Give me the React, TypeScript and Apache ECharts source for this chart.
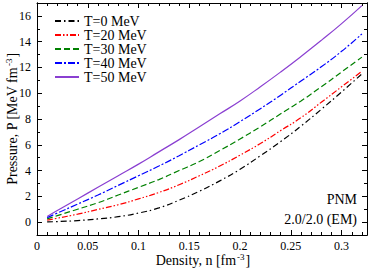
import React, { useEffect, useRef } from "react";
import * as echarts from "echarts";

const density = [0.01, 0.02, 0.04, 0.06, 0.08, 0.1, 0.12, 0.14, 0.16, 0.18, 0.2, 0.22, 0.24, 0.26, 0.28, 0.3, 0.32];
const pT0 = [0.02, 0.04, 0.12, 0.25, 0.42, 0.7, 1.1, 1.7, 2.4, 3.2, 4.1, 5.15, 6.25, 7.45, 8.75, 10.1, 11.5];
const pT20 = [0.15, 0.3, 0.62, 0.98, 1.35, 1.8, 2.3, 2.9, 3.6, 4.35, 5.2, 6.1, 7.1, 8.1, 9.3, 10.5, 11.7];
const pT30 = [0.25, 0.5, 1.0, 1.5, 2.1, 2.7, 3.3, 4.0, 4.7, 5.55, 6.45, 7.4, 8.4, 9.4, 10.5, 11.65, 12.8];
const pT40 = [0.35, 0.7, 1.4, 2.1, 2.85, 3.6, 4.35, 5.15, 6.0, 6.85, 7.8, 8.8, 9.85, 10.95, 12.05, 13.25, 14.6];
const pT50 = [0.44, 0.9, 1.8, 2.7, 3.6, 4.5, 5.45, 6.4, 7.4, 8.4, 9.4, 10.5, 11.65, 12.85, 14.1, 15.4, 16.8];

const seriesNames = ["T=0 MeV", "T=20 MeV", "T=30 MeV", "T=40 MeV", "T=50 MeV"];
const seriesValues = [pT0, pT20, pT30, pT40, pT50];
const seriesColors = ["#000000", "#ff0000", "#008000", "#0000ff", "#8a3fd1"];
const seriesDashes: (number[] | "solid")[] = [
  [6, 3, 1.5, 3],
  [6, 2, 1.5, 2, 1.5, 2],
  [6, 3],
  [7, 2, 2, 2],
  "solid",
];

const xTickLabels = [0, 0.05, 0.1, 0.15, 0.2, 0.25, 0.3];
const yTickLabels = [0, 2, 4, 6, 8, 10, 12, 14, 16];
const annotations = ["PNM", "2.0/2.0 (EM)"];
const xTitle = "{a|Density, n [fm}{s|-3}{a|]}";
const yTitle = "{a|Pressure, P [MeV fm}{s|-3}{a|]}";

const FONT = "Liberation Serif, serif";

export default function App() {
  const ref = useRef<HTMLDivElement>(null);
  useEffect(() => {
    if (!ref.current) return;
    const chart = echarts.init(ref.current, undefined, { renderer: "svg" });
    const axisLine = { show: true, onZero: false, lineStyle: { color: "#000", width: 1 } };
    const xCommon = {
      type: "value" as const,
      min: 0,
      max: 0.325,
      interval: 0.05,
      splitLine: { show: false },
      axisLine,
      axisTick: { inside: true, length: 5, lineStyle: { color: "#000" } },
      minorTick: { show: true, splitNumber: 5, length: 3, lineStyle: { color: "#000" } },
    };
    const yMinor = {
      type: "value" as const,
      min: -1,
      max: 17,
      interval: 1,
      splitLine: { show: false },
      axisLine,
      axisTick: { inside: true, length: 3, lineStyle: { color: "#000" } },
      axisLabel: { show: false },
    };
    const yMajor = {
      type: "value" as const,
      min: -1,
      max: 17,
      interval: 1,
      splitLine: { show: false },
      axisLine,
      axisTick: { inside: true, length: 5, lineStyle: { color: "#000" }, customValues: yTickLabels },
    };
    const titleRich = {
      a: { fontFamily: FONT, fontSize: 14, fill: "#000", color: "#000", lineHeight: 16 },
      s: { fontFamily: FONT, fontSize: 9, fill: "#000", color: "#000", lineHeight: 16, verticalAlign: "top", padding: [0, 1, 6, 1] },
    };
    chart.setOption({
      animation: false,
      backgroundColor: "#fff",
      textStyle: { fontFamily: FONT },
      grid: { left: 37, right: 7, top: 3, bottom: 35, containLabel: false, outerBoundsMode: "none" },
      legend: {
        orient: "vertical",
        left: 49,
        top: 9,
        itemWidth: 24,
        itemHeight: 13,
        itemGap: 0,
        data: seriesNames,
        itemStyle: { opacity: 0 },
        textStyle: { fontFamily: FONT, fontSize: 14, color: "#000", lineHeight: 13 },
      },
      xAxis: [
        {
          ...xCommon,
          position: "bottom",
          axisLabel: {
            margin: 5,
            fontFamily: FONT,
            fontSize: 12,
            color: "#000",
            customValues: xTickLabels,
            formatter: (v: number) => String(Number(v.toFixed(2))),
          },
        },
        { ...xCommon, position: "top", axisLabel: { show: false } },
      ],
      yAxis: [
        { ...yMinor, position: "left" },
        {
          ...yMajor,
          position: "left",
          axisLabel: {
            margin: 6,
            fontFamily: FONT,
            fontSize: 12,
            color: "#000",
            customValues: yTickLabels,
          },
        },
        { ...yMinor, position: "right" },
        { ...yMajor, position: "right", axisLabel: { show: false } },
      ],
      graphic: [
        {
          type: "text",
          right: 17,
          top: 192,
          style: { text: annotations[0], fontFamily: FONT, fontSize: 14, fill: "#000", textAlign: "right" },
        },
        {
          type: "text",
          right: 17,
          top: 212,
          style: { text: annotations[1], fontFamily: FONT, fontSize: 14, fill: "#000", textAlign: "right" },
        },
        {
          type: "text",
          x: 203,
          y: 260,
          style: {
            text: xTitle,
            rich: titleRich,
            fill: "#000",
            align: "center",
            verticalAlign: "middle",
            textAlign: "center",
            textVerticalAlign: "middle",
          },
        },
        {
          type: "text",
          x: 12,
          y: 119,
          rotation: Math.PI / 2,
          style: {
            text: yTitle,
            rich: titleRich,
            fill: "#000",
            align: "center",
            verticalAlign: "middle",
            textAlign: "center",
            textVerticalAlign: "middle",
          },
        },
      ],
      series: seriesNames.map((name, i) => ({
        name,
        type: "line",
        xAxisIndex: 0,
        yAxisIndex: 0,
        symbol: "none",
        smooth: true,
        data: density.map((n, j) => [n, seriesValues[i][j]]),
        lineStyle: { color: seriesColors[i], width: 1.2, type: seriesDashes[i] },
        itemStyle: { color: seriesColors[i] },
      })),
    });
    return () => chart.dispose();
  }, []);
  return (
    <div
      ref={ref}
      style={{ position: "fixed", left: 0, top: 0, width: 374, height: 270, background: "#fff" }}
    />
  );
}
